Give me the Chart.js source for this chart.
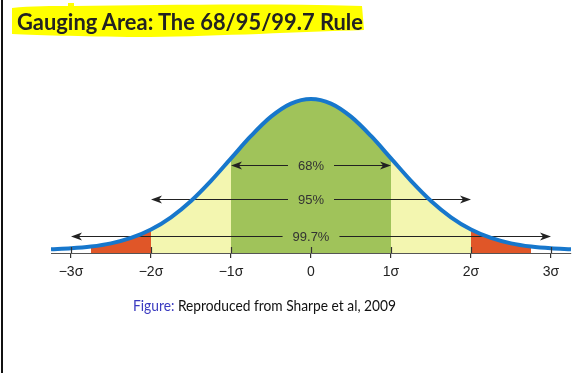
<!DOCTYPE html>
<html><head><meta charset="utf-8">
<script src="https://cdn.jsdelivr.net/npm/chart.js@4"></script>
<style>
html,body{margin:0;padding:0;width:588px;height:373px;overflow:hidden;background:#fff;}
#wrap{position:relative;width:588px;height:373px;}
#c{position:absolute;left:0;top:0;}
#border{position:absolute;left:1px;top:0;width:2px;height:373px;background:#111;}
#hl{position:absolute;left:0;top:0;}
.txt{position:absolute;white-space:nowrap;transform-origin:0 0;line-height:1.2;}
#title{font:bold 22px Lato, "DejaVu Sans", sans-serif;color:#222;}
#caption{font:15px Lato, "DejaVu Sans", sans-serif;color:#111;}
#caption .fig{color:#3b3bc0;}
.bm{display:inline-block;width:0;height:0;vertical-align:baseline;}
</style></head>
<body>
<div id="wrap">
<canvas id="c" width="588" height="373"></canvas>
<div id="border"></div>
<svg id="hl" width="588" height="60"><path d="M12,8 C30,6 55,6 68,6 L68,3 L74,3 L74,6 C160,5 260,3 362,6 L364,30 C300,32 220,36 150,37 C90,37 40,35 12,34 Z" fill="#ffff00"/></svg>
<div id="title" class="txt">Gauging Area: The 68/95/99.7 Rule<span class="bm"></span></div>
<div id="caption" class="txt"><span class="fig">Figure:</span> Reproduced from Sharpe et al, 2009<span class="bm"></span></div>
</div>
<script>
// ---- data ----
const xs = [-3.25,-3,-2.75,-2.5,-2.25,-2,-1.75,-1.5,-1.25,-1,-0.75,-0.5,-0.25,0,0.25,0.5,0.75,1,1.25,1.5,1.75,2,2.25,2.5,2.75,3,3.25];
const density = [0.0020,0.0044,0.0091,0.0175,0.0317,0.0540,0.0863,0.1295,0.1826,0.2420,0.3011,0.3521,0.3867,0.3989,0.3867,0.3521,0.3011,0.2420,0.1826,0.1295,0.0863,0.0540,0.0317,0.0175,0.0091,0.0044,0.0020];
const tickValues = [-3,-2,-1,0,1,2,3];
const tickLabels = ['−3σ','−2σ','−1σ','0','1σ','2σ','3σ'];
const bandFrom = [-2.75,-2,-1,1,2];
const bandTo = [-2,-1,1,2,2.75];
const bandColors = ['#e05628','#f3f6b0','#a0c35a','#f3f6b0','#e05628'];
const arrowLabels = ['68%','95%','99.7%'];
const arrowFrom = [-1,-2,-3];
const arrowTo = [1,2,3];
const arrowLevel = [0.2245,0.1347,0.0377];
const yMin = -0.008, yMax = 0.44;

const pts = xs.map((x,i)=>({x:x, y:density[i]}));
const datasets = [{
  data: pts, borderColor:'#1777cc', borderWidth:4, pointRadius:0, fill:false,
  cubicInterpolationMode:'monotone', borderCapStyle:'butt'
}];
bandFrom.forEach((f,i)=>{
  datasets.push({
    data: pts.filter(p=>p.x>=f && p.x<=bandTo[i]),
    borderColor:'rgba(0,0,0,0)', borderWidth:0, pointRadius:0,
    backgroundColor: bandColors[i], fill:{value:yMin},
    cubicInterpolationMode:'monotone'
  });
});

function head(ctx,x,y,dir){
  ctx.beginPath();
  ctx.moveTo(x,y);
  ctx.lineTo(x+dir*11,y-4);
  ctx.lineTo(x+dir*8,y);
  ctx.lineTo(x+dir*11,y+4);
  ctx.closePath();
  ctx.fill();
}
const overlay = {
  id:'overlay',
  beforeDatasetDraw(chart,args){
    if(args.index!==0) return;
    const ctx=chart.ctx, xS=chart.scales.x, yS=chart.scales.y;
    ctx.save();
    ctx.font='13px "Liberation Sans", Arial, sans-serif';
    ctx.textAlign='center'; ctx.textBaseline='middle';
    arrowLabels.forEach((lab,i)=>{
      const yp=Math.round(yS.getPixelForValue(arrowLevel[i]))+0.5;
      const x0=xS.getPixelForValue(arrowFrom[i]), x1=xS.getPixelForValue(arrowTo[i]);
      const xc=xS.getPixelForValue(0);
      const half=ctx.measureText(lab).width/2+10;
      ctx.strokeStyle='#222'; ctx.fillStyle='#222'; ctx.lineWidth=1.2;
      ctx.beginPath();
      ctx.moveTo(x0+8,yp); ctx.lineTo(xc-half,yp);
      ctx.moveTo(xc+half,yp); ctx.lineTo(x1-8,yp);
      ctx.stroke();
      head(ctx,x0,yp,1); head(ctx,x1,yp,-1);
      ctx.fillStyle='#333';
      ctx.fillText(lab,xc,yp+0.5);
    });
    ctx.restore();
  },
  afterDatasetsDraw(chart){
    const ctx=chart.ctx, xS=chart.scales.x, b=chart.chartArea.bottom;
    ctx.save();
    ctx.strokeStyle='#333'; ctx.lineWidth=1.2;
    tickValues.forEach(v=>{
      const px=Math.round(xS.getPixelForValue(v))+0.5;
      ctx.beginPath(); ctx.moveTo(px,b-6); ctx.lineTo(px,b); ctx.stroke();
    });
    ctx.restore();
  }
};

new Chart(document.getElementById('c'),{
  type:'line',
  data:{datasets:datasets},
  plugins:[overlay],
  options:{
    responsive:false, animation:false, devicePixelRatio:1,
    layout:{padding:{left:51,right:17,top:83.4,bottom:0}},
    plugins:{legend:{display:false},tooltip:{enabled:false},title:{display:false}},
    elements:{line:{tension:0}},
    scales:{
      x:{type:'linear',min:-3.25,max:3.25,
        afterFit(s){s.height=120;},
        border:{display:true,color:'#555',width:1},
        grid:{display:true,drawOnChartArea:false,drawTicks:true,tickLength:5,color:'#333',lineWidth:1.2},
        ticks:{stepSize:1,includeBounds:false,autoSkip:false,maxRotation:0,padding:6,color:'#222',
          font:{family:'"Liberation Sans", Arial, sans-serif',size:14},
          callback:(v)=>{const k=tickValues.indexOf(v);return k<0?'':tickLabels[k];}}
      },
      y:{display:false,min:yMin,max:yMax}
    }
  }
});

function place(el,left,baseline,width){
  el.style.left=left+'px'; el.style.top='0px'; el.style.transform='none';
  const r=el.getBoundingClientRect();
  const bm=el.querySelector('.bm').getBoundingClientRect();
  el.style.top=(baseline-(bm.bottom-r.top))+'px';
  el.style.transform='scaleX('+(width/r.width)+')';
}
place(document.getElementById('title'),17,30,346);
place(document.getElementById('caption'),133,311,263);
</script>
</body></html>
